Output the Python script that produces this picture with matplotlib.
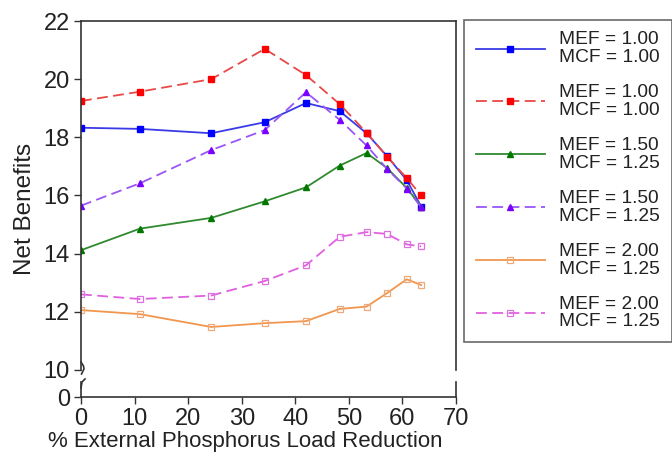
import matplotlib
matplotlib.use('Agg')
import matplotlib.pyplot as plt
from matplotlib.lines import Line2D

plt.rcParams['font.family'] = ['Liberation Sans', 'DejaVu Sans']

# % external phosphorus load reduction
reduction = [0, 11, 24.3, 34.3, 42, 48.3, 53.3, 57.1, 60.8, 63.5]

nb_blue = [18.33, 18.29, 18.14, 18.52, 19.18, 18.9, 18.14, 17.36, 16.53, 15.62]
nb_red = [19.25, 19.57, 20.0, 21.04, 20.14, 19.14, 18.16, 17.34, 16.6, 16.0]
nb_green = [14.12, 14.86, 15.23, 15.8, 16.28, 17.03, 17.46, 16.95, 16.26, 15.62]
nb_purple = [15.65, 16.42, 17.56, 18.25, 19.55, 18.6, 17.72, 16.92, 16.24, 15.6]
nb_orange = [12.06, 11.92, 11.48, 11.61, 11.68, 12.1, 12.18, 12.64, 13.12, 12.92]
nb_magenta = [12.6, 12.44, 12.56, 13.06, 13.6, 14.58, 14.74, 14.68, 14.32, 14.25]

labels = ['MEF = 1.00\nMCF = 1.00', 'MEF = 1.00\nMCF = 1.00',
          'MEF = 1.50\nMCF = 1.25', 'MEF = 1.50\nMCF = 1.25',
          'MEF = 2.00\nMCF = 1.25', 'MEF = 2.00\nMCF = 1.25']

W, H = 672, 461
fig = plt.figure(figsize=(W / 100, H / 100), dpi=100)


def px(x0, y0, x1, y1):
    # figure-pixel box -> fractional rect
    return [x0 / W, 1 - y1 / H, (x1 - x0) / W, (y1 - y0) / H]


ax = fig.add_axes(px(81, 21, 456, 370))
axb = fig.add_axes(px(81, 382, 456, 397))

styles = [
    (nb_blue, dict(color='#3a3ae8', ls='-', marker='s', ms=5, mfc='#0000ff', mec='#0000ff')),
    (nb_red, dict(color='#e84848', ls=(0, (6, 3)), marker='s', ms=5, mfc='#ff0000', mec='#ff0000')),
    (nb_green, dict(color='#2f8a2f', ls='-', marker='^', ms=4, mfc='#007800', mec='#007800')),
    (nb_purple, dict(color='#9a55f5', ls=(0, (6, 3)), marker='^', ms=4, mfc='#7a00ff', mec='#7a00ff')),
    (nb_orange, dict(color='#f0964e', ls='-', marker='s', ms=4.5, mfc='none', mec='#f0a878', mew=0.9)),
    (nb_magenta, dict(color='#e060e0', ls=(0, (6, 3)), marker='s', ms=4.5, mfc='none', mec='#e070e0', mew=0.9)),
]

handles = []
for vals, st in styles:
    h, = ax.plot(reduction, vals, lw=1.3, **st)
    handles.append(h)

for a in (ax, axb):
    a.set_xlim(0, 70)
    for s in a.spines.values():
        s.set_color('#333333')
        s.set_linewidth(1.2)
    a.tick_params(direction='out', length=5, width=1, colors='#333333',
                  labelsize=17, labelcolor='#222222', pad=3)

ax.set_ylim(10, 22)
ax.set_yticks(range(10, 23, 2))
ax.spines['bottom'].set_visible(False)
ax.set_xticks([])

axb.set_ylim(0, 1)
axb.set_yticks([0])
axb.spines['top'].set_visible(False)
axb.set_xticks(range(0, 71, 10))

ax.set_ylabel('Net Benefits', fontsize=17.5, color='#222222')
ax.yaxis.set_label_coords(36 / W, 1 - 209 / H, transform=fig.transFigure)
axb.set_xlabel('% External Phosphorus Load Reduction', fontsize=16, color='#222222')
axb.xaxis.set_label_coords(245 / W, 1 - 431 / H, transform=fig.transFigure)

# axis break marks on the left spine
tf = fig.transFigure
brk_top_x = [81, 83.5, 84, 81.5]
brk_top_y = [362, 366, 369, 374]
brk_bot_x = [85, 82, 81.5, 81]
brk_bot_y = [379, 382, 385, 388]
for xs, ys in ((brk_top_x, brk_top_y), (brk_bot_x, brk_bot_y)):
    fig.add_artist(Line2D([x / W for x in xs], [1 - y / H for y in ys],
                          transform=tf, color='#333333', lw=1.2))

leg = fig.legend(handles, labels, loc='upper left',
                 bbox_to_anchor=(464 / W, 0, (W - 464) / W, 1 - 20 / H),
                 mode='expand', fontsize=13.8, frameon=True, fancybox=False,
                 edgecolor='#444444', handlelength=3.6, handletextpad=0.75,
                 labelspacing=0.95, borderpad=0.6, borderaxespad=0)
leg.get_frame().set_linewidth(1.2)
for t in leg.get_texts():
    t.set_linespacing(1.05)
    t.set_color('#222222')

fig.savefig('out.png', dpi=100)
